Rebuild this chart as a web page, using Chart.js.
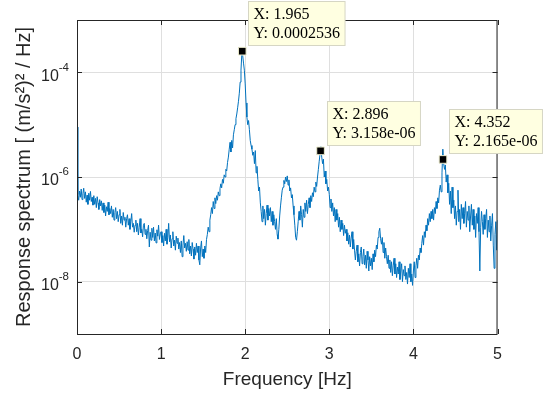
<!DOCTYPE html>
<html>
<head>
<meta charset="utf-8">
<title>Response spectrum</title>
<script src="https://cdn.jsdelivr.net/npm/chart.js@4.4.1/dist/chart.umd.min.js"></script>
<style>
  html, body { margin: 0; padding: 0; background: #fff; }
  #wrap { width: 548px; height: 394px; }
</style>
</head>
<body>
<div id="wrap"><canvas id="spectrum" width="548" height="394"></canvas></div>
<script>
// frequency resolution of the spectrum (Hz between samples)
const freqStep = 0.01;

// response spectrum values, (m/s^2)^2/Hz, one row per 0.1 Hz
const psd = [
  9.0e-6, 4.6e-7, 3.6e-7, 5.4e-7, 4.1e-7, 5.9e-7, 3.7e-7, 4.8e-7, 6.1e-7, 3.9e-7,   // 0.0
  5.2e-7, 3.3e-7, 4.5e-7, 3.0e-7, 4.9e-7, 3.6e-7, 5.3e-7, 3.4e-7, 4.1e-7, 2.9e-7,
  4.4e-7, 3.0e-7, 3.9e-7, 2.6e-7, 4.2e-7, 3.2e-7, 2.4e-7, 3.7e-7, 2.8e-7, 3.5e-7,
  2.3e-7, 3.2e-7, 2.1e-7, 2.9e-7, 1.8e-7, 2.7e-7, 2.2e-7, 3.3e-7, 1.9e-7, 2.5e-7,
  2.0e-7, 2.8e-7, 1.7e-7, 2.4e-7, 1.5e-7, 2.1e-7, 2.6e-7, 1.6e-7, 2.2e-7, 1.4e-7,
  1.9e-7, 2.4e-7, 1.3e-7, 1.8e-7, 1.2e-7, 2.1e-7, 1.5e-7, 1.7e-7, 1.1e-7, 1.6e-7,   // 0.5
  1.9e-7, 1.2e-7, 1.6e-7, 1.0e-7, 1.4e-7, 2.0e-7, 1.1e-7, 1.3e-7, 8.8e-8, 1.2e-7,
  1.5e-7, 9.0e-8, 1.3e-7, 7.8e-8, 1.1e-7, 1.6e-7, 8.5e-8, 1.0e-7, 7.2e-8, 1.2e-7,
  1.3e-7, 8.0e-8, 1.0e-7, 6.6e-8, 9.5e-8, 1.2e-7, 4.6e-8, 8.8e-8, 6.2e-8, 1.05e-7,
  7.0e-8, 1.1e-7, 6.0e-8, 8.5e-8, 5.5e-8, 9.8e-8, 7.4e-8, 1.2e-7, 6.4e-8, 8.2e-8,
  9.0e-8, 5.6e-8, 7.6e-8, 4.8e-8, 8.4e-8, 6.0e-8, 1.0e-7, 5.2e-8, 7.0e-8, 1.3e-7,   // 1.0
  5.8e-8, 7.8e-8, 4.4e-8, 6.6e-8, 9.0e-8, 4.8e-8, 6.2e-8, 4.0e-8, 7.4e-8, 5.4e-8,
  6.8e-8, 4.2e-8, 5.6e-8, 3.6e-8, 6.0e-8, 3.0e-8, 5.0e-8, 7.6e-8, 4.4e-8, 5.4e-8,
  3.8e-8, 5.8e-8, 4.0e-8, 6.4e-8, 3.4e-8, 4.8e-8, 3.1e-8, 5.6e-8, 4.2e-8, 2.7e-8,
  4.6e-8, 3.2e-8, 5.4e-8, 3.6e-8, 4.8e-8, 2.6e-8, 2.1e-8, 4.4e-8, 6.0e-8, 3.0e-8,
  4.2e-8, 2.8e-8, 4.8e-8, 3.6e-8, 6.4e-8, 8.0e-8, 1.1e-7, 9.0e-8, 1.5e-7, 1.9e-7,   // 1.5
  2.6e-7, 2.0e-7, 3.4e-7, 2.5e-7, 4.0e-7, 3.1e-7, 4.4e-7, 3.6e-7, 5.2e-7, 4.4e-7,
  6.0e-7, 7.4e-7, 6.2e-7, 9.0e-7, 7.6e-7, 1.1e-6, 1.0e-6, 1.4e-6, 1.3e-6, 1.9e-6,
  2.4e-6, 3.4e-6, 4.6e-6, 3.0e-6, 5.0e-6, 3.6e-6, 6.4e-6, 8.0e-6, 1.0e-5, 1.3e-5,
  1.6e-5, 2.1e-5, 2.8e-5, 4.0e-5, 6.5e-5, 1.1e-4, 2.3e-4, 2.1e-4, 1.5e-4, 1.1e-4,
  6.0e-5, 2.6e-5, 1.4e-5, 1.0e-5, 1.2e-5, 8.0e-6, 5.0e-6, 4.0e-6, 3.4e-6, 2.6e-6,   // 2.0
  3.0e-6, 1.8e-6, 3.2e-6, 1.2e-6, 1.6e-6, 9.0e-7, 5.4e-7, 6.4e-7, 3.2e-7, 2.2e-7,
  1.4e-7, 2.8e-7, 1.6e-7, 2.4e-7, 1.2e-7, 2.0e-7, 2.9e-7, 1.5e-7, 2.5e-7, 1.8e-7,
  2.6e-7, 1.4e-7, 2.2e-7, 1.2e-7, 1.9e-7, 1.4e-7, 1.0e-7, 1.6e-7, 8.0e-8, 6.5e-8,
  1.0e-7, 1.8e-7, 2.8e-7, 4.0e-7, 5.6e-7, 6.4e-7, 8.6e-7, 7.4e-7, 1.0e-6, 8.2e-7,
  1.05e-6, 7.0e-7, 8.8e-7, 5.4e-7, 6.2e-7, 4.0e-7, 4.6e-7, 2.8e-7, 1.9e-7, 1.2e-7, // 2.5
  7.0e-8, 6.2e-8, 9.0e-8, 1.4e-7, 2.2e-7, 1.5e-7, 2.8e-7, 1.9e-7, 1.1e-7, 2.4e-7,
  1.7e-7, 3.2e-7, 2.2e-7, 3.6e-7, 2.0e-7, 3.0e-7, 4.0e-7, 2.6e-7, 4.4e-7, 3.4e-7,
  5.0e-7, 4.2e-7, 6.4e-7, 5.2e-7, 8.0e-7, 6.6e-7, 1.0e-6, 1.4e-6, 2.0e-6, 2.8e-6,
  3.8e-6, 2.4e-6, 1.8e-6, 2.2e-6, 1.0e-6, 1.3e-6, 7.4e-7, 9.0e-7, 5.4e-7, 6.4e-7,
  4.6e-7, 2.6e-7, 3.8e-7, 2.2e-7, 3.2e-7, 1.8e-7, 2.6e-7, 1.4e-7, 2.4e-7, 1.5e-7,   // 3.0
  2.0e-7, 1.1e-7, 1.7e-7, 9.0e-8, 1.5e-7, 1.0e-7, 1.3e-7, 7.6e-8, 1.2e-7, 8.4e-8,
  1.0e-7, 6.0e-8, 8.6e-8, 5.2e-8, 7.8e-8, 4.6e-8, 6.8e-8, 9.0e-8, 4.2e-8, 6.4e-8,
  4.0e-8, 2.6e-8, 3.8e-8, 5.0e-8, 2.4e-8, 3.4e-8, 2.0e-8, 3.6e-8, 4.6e-8, 2.2e-8,
  3.0e-8, 4.2e-8, 2.1e-8, 3.2e-8, 1.8e-8, 3.8e-8, 2.6e-8, 1.6e-8, 3.0e-8, 2.0e-8,
  2.8e-8, 1.7e-8, 3.4e-8, 2.4e-8, 4.0e-8, 3.0e-8, 5.0e-8, 4.2e-8, 7.0e-8, 9.0e-8,   // 3.5
  1.05e-7, 6.6e-8, 5.2e-8, 7.0e-8, 3.6e-8, 5.6e-8, 2.8e-8, 4.4e-8, 3.0e-8, 2.2e-8,
  3.2e-8, 1.8e-8, 2.6e-8, 1.5e-8, 2.4e-8, 1.3e-8, 2.0e-8, 2.8e-8, 1.4e-8, 2.2e-8,
  1.2e-8, 1.9e-8, 1.4e-8, 2.4e-8, 1.1e-8, 1.6e-8, 2.2e-8, 1.0e-8, 1.7e-8, 1.3e-8,
  2.0e-8, 1.1e-8, 1.5e-8, 9.0e-9, 1.8e-8, 1.2e-8, 2.2e-8, 1.0e-8, 1.4e-8, 8.5e-9,
  1.6e-8, 2.4e-8, 1.2e-8, 2.0e-8, 2.8e-8, 1.8e-8, 3.2e-8, 2.6e-8, 4.4e-8, 3.6e-8,   // 4.0
  5.4e-8, 7.6e-8, 5.0e-8, 9.0e-8, 7.0e-8, 1.2e-7, 9.4e-8, 1.6e-7, 1.2e-7, 2.0e-7,
  1.4e-7, 2.2e-7, 1.6e-7, 2.4e-7, 1.5e-7, 2.6e-7, 2.0e-7, 3.4e-7, 2.5e-7, 4.0e-7,
  3.2e-7, 5.6e-7, 7.0e-7, 5.2e-7, 1.2e-6, 3.4e-6, 1.8e-6, 1.4e-6, 1.7e-6, 8.0e-7,
  1.1e-6, 5.0e-7, 7.6e-7, 3.0e-7, 5.4e-7, 2.0e-7, 6.4e-7, 2.6e-7, 3.6e-7, 1.6e-7,
  2.8e-7, 1.2e-7, 2.2e-7, 5.6e-7, 1.4e-7, 2.4e-7, 1.0e-7, 3.0e-7, 1.6e-7, 2.6e-7,   // 4.5
  1.3e-7, 2.0e-7, 3.4e-7, 1.1e-7, 2.2e-7, 1.5e-7, 2.8e-7, 9.0e-8, 1.8e-7, 3.0e-7,
  1.2e-7, 2.4e-7, 1.0e-7, 1.8e-7, 7.0e-8, 2.0e-7, 1.3e-7, 2.6e-7, 9.0e-8, 1.6e-8,
  1.1e-7, 2.2e-7, 1.4e-7, 8.0e-8, 1.9e-7, 1.0e-7, 1.6e-7, 2.4e-7, 7.0e-8, 1.5e-7,
  9.0e-8, 1.8e-7, 6.0e-8, 1.2e-7, 2.0e-7, 5.0e-8, 1.8e-8, 8.0e-8, 1.4e-7, 4.0e-8,
  1.5e-7                                                                             // 5.0
];

// data tips
const peakFreq = [1.965, 2.896, 4.352];
const peakVal = [2.536e-4, 3.158e-6, 2.165e-6];
const peakText = [
  ['X: 1.965', 'Y: 0.0002536'],
  ['X: 2.896', 'Y: 3.158e-06'],
  ['X: 4.352', 'Y: 2.165e-06']
];

// axes
const xTicks = [0, 1, 2, 3, 4, 5];
const yTicks = [1e-8, 1e-6, 1e-4];
const yTickExp = ['-8', '-6', '-4'];

const SANS = "'Liberation Sans', Arial, Helvetica, sans-serif";
const SERIF = "'Liberation Serif', 'Times New Roman', serif";
const AXIS = '#262626';

// box, inward ticks, tick labels and data tips, drawn like the matlab figure
const matlabAxes = {
  id: 'matlabAxes',
  afterDraw(chart) {
    const {ctx, chartArea: a, scales: {x, y}} = chart;
    ctx.save();
    ctx.strokeStyle = AXIS;
    ctx.lineWidth = 1;
    ctx.strokeRect(a.left + 0.5, a.top + 0.5, a.right - a.left - 1, a.bottom - a.top);

    ctx.beginPath();
    xTicks.forEach(v => {
      const px = Math.round(x.getPixelForValue(v)) + 0.5;
      ctx.moveTo(px, a.bottom); ctx.lineTo(px, a.bottom - 5);
      ctx.moveTo(px, a.top); ctx.lineTo(px, a.top + 5);
    });
    yTicks.forEach(v => {
      const py = Math.round(y.getPixelForValue(v)) + 0.5;
      ctx.moveTo(a.left, py); ctx.lineTo(a.left + 5, py);
      ctx.moveTo(a.right, py); ctx.lineTo(a.right - 5, py);
    });
    ctx.stroke();

    ctx.fillStyle = AXIS;
    ctx.textBaseline = 'middle';
    ctx.textAlign = 'center';
    ctx.font = '16px ' + SANS;
    xTicks.forEach(v => ctx.fillText(String(v), x.getPixelForValue(v), 355));

    ctx.textAlign = 'left';
    yTicks.forEach((v, i) => {
      const py = y.getPixelForValue(v);
      ctx.font = '11.5px ' + SANS;
      const w = ctx.measureText(yTickExp[i]).width;
      const ex = a.left - 8 - w;
      ctx.fillText(yTickExp[i], ex, py - 5);
      ctx.font = '16px ' + SANS;
      ctx.textAlign = 'right';
      ctx.fillText('10', ex, py + 4);
      ctx.textAlign = 'left';
    });

    // data tips
    ctx.font = '16px ' + SERIF;
    peakFreq.forEach((f, i) => {
      const px = x.getPixelForValue(f);
      const py = y.getPixelForValue(peakVal[i]);
      const w = Math.max(...peakText[i].map(t => ctx.measureText(t).width)) + 10;
      const left = Math.round(px + 6) + 0.5;
      const top = Math.round(py - 50) + 0.5;
      ctx.fillStyle = 'rgb(255,255,225)';
      ctx.strokeStyle = 'rgb(214,214,196)';
      ctx.fillRect(left, top, w, 44);
      ctx.strokeRect(left, top, w, 44);
      ctx.fillStyle = '#000';
      ctx.fillText(peakText[i][0], left + 5, top + 13);
      ctx.fillText(peakText[i][1], left + 5, top + 32);
    });
    ctx.restore();
  }
};

new Chart(document.getElementById('spectrum'), {
  type: 'line',
  data: {
    datasets: [
      {
        type: 'scatter',
        data: peakFreq.map((f, i) => ({x: f, y: peakVal[i]})),
        pointStyle: 'rect',
        pointRadius: 5.4,
        backgroundColor: '#000',
        borderColor: 'rgb(235,235,205)',
        borderWidth: 1
      },
      {
        data: psd.map((v, i) => ({x: i * freqStep, y: v})),
        borderColor: '#0072BD',
        borderWidth: 1,
        pointRadius: 0,
        tension: 0,
        fill: false
      }
    ]
  },
  options: {
    responsive: false,
    animation: false,
    devicePixelRatio: 1,
    layout: {padding: {left: 0, right: 50.5, top: 20, bottom: 0}},
    plugins: {legend: {display: false}, tooltip: {enabled: false}},
    scales: {
      x: {
        type: 'linear',
        min: 0,
        max: 5,
        afterBuildTicks: s => { s.ticks = xTicks.map(v => ({value: v})); },
        afterFit: s => { s.height = 60; },
        ticks: {display: false},
        grid: {color: '#dfdfdf', drawTicks: false},
        border: {display: false},
        title: {
          display: true,
          text: 'Frequency [Hz]',
          color: AXIS,
          font: {family: SANS, size: 19},
          padding: {top: 0, bottom: 3}
        }
      },
      y: {
        type: 'logarithmic',
        min: 1e-9,
        max: 1e-3,
        afterBuildTicks: s => { s.ticks = yTicks.map(v => ({value: v})); },
        afterFit: s => { s.width = 77; },
        ticks: {display: false},
        grid: {color: '#dfdfdf', drawTicks: false},
        border: {display: false},
        title: {
          display: true,
          text: 'Response spectrum [ (m/s\u00b2)\u00b2 / Hz]',
          color: AXIS,
          font: {family: SANS, size: 20},
          padding: {top: 12, bottom: 0}
        }
      }
    }
  },
  plugins: [matlabAxes]
});
</script>
</body>
</html>
